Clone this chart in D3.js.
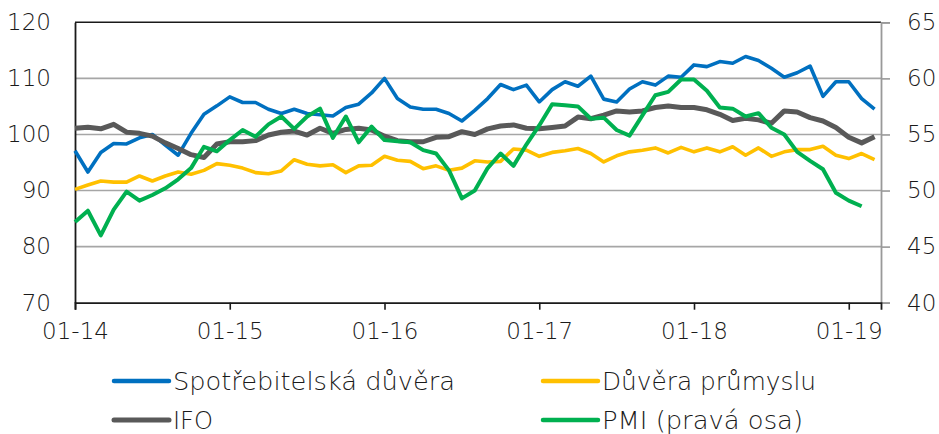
<!DOCTYPE html>
<html><head><meta charset="utf-8">
<script src="https://cdn.jsdelivr.net/npm/d3@7"></script>
<style>
html,body{margin:0;padding:0;background:#fff;}
svg{display:block;font-family:"DejaVu Sans",sans-serif;}
</style></head>
<body><svg id="c" width="939" height="434"></svg>
<script>
const tickLabels = ["01-14","01-15","01-16","01-17","01-18","01-19"];
const tickIdx = [0,12,24,36,48,60];
const leftTicks = [70,80,90,100,110,120];
const rightTicks = [40,45,50,55,60,65];

const spotrebitelska = [97.1,93.3,96.8,98.4,98.3,99.4,100.0,98.1,96.3,100.2,103.6,105.1,106.7,105.7,105.7,104.5,103.75,104.5,103.75,103.5,103.3,104.8,105.4,107.4,110.0,106.4,104.9,104.5,104.5,103.75,102.4,104.3,106.4,108.9,108.0,108.8,105.8,108.0,109.4,108.6,110.4,106.3,105.8,108.1,109.4,108.8,110.4,110.2,112.4,112.1,113.0,112.7,113.9,113.2,111.8,110.2,111.0,112.2,106.8,109.4,109.4,106.4,104.5];
const prumysl = [90.2,91.0,91.7,91.5,91.5,92.6,91.7,92.6,93.3,92.9,93.6,94.8,94.5,94.0,93.2,93.0,93.5,95.5,94.7,94.4,94.6,93.2,94.4,94.5,96.1,95.4,95.2,93.9,94.4,93.6,94.0,95.3,95.1,95.2,97.4,97.2,96.1,96.8,97.1,97.5,96.6,95.1,96.2,96.9,97.2,97.6,96.7,97.7,96.9,97.6,96.9,97.8,96.3,97.6,96.1,96.9,97.3,97.3,97.9,96.3,95.7,96.6,95.5];
const ifo = [101.1,101.3,101.0,101.8,100.4,100.2,99.7,98.5,97.5,96.4,95.9,98.3,98.7,98.7,98.9,99.9,100.4,100.6,99.9,101.1,100.2,100.9,101.1,100.8,99.7,98.9,98.7,98.7,99.5,99.6,100.5,100.0,101.0,101.5,101.7,101.1,101.0,101.25,101.5,103.1,102.8,103.45,104.2,104.0,104.2,104.8,105.06,104.8,104.8,104.4,103.6,102.5,102.9,102.6,102.0,104.2,104.0,103.0,102.4,101.25,99.5,98.5,99.6];
const pmi = [47.2,48.2,46.0,48.3,49.9,49.1,49.6,50.2,51.0,52.0,53.9,53.5,54.5,55.4,54.8,55.9,56.6,55.5,56.6,57.3,54.7,56.6,54.3,55.7,54.5,54.4,54.3,53.6,53.3,51.8,49.3,50.0,52.0,53.3,52.2,54.1,55.8,57.7,57.6,57.5,56.4,56.5,55.4,54.9,56.7,58.5,58.8,59.9,59.9,58.9,57.4,57.3,56.6,56.9,55.6,55.0,53.45,52.65,51.9,49.8,49.1,48.6];

const seriesNames = ["Spotřebitelská důvěra","Důvěra průmyslu","IFO","PMI (pravá osa)"];
const seriesColors = ["#0070C0","#FFC000","#595959","#00B050"];

const svg = d3.select("#c");
const L=75, R=881, T=22.3, B=302.7;
const x = d3.scaleLinear().domain([0,62.5]).range([L,R]);
const yL = d3.scaleLinear().domain([70,120]).range([B,T]);
const yR = d3.scaleLinear().domain([40,65]).range([B,T]);
const FW = 300;

// gridlines
svg.append("g").selectAll("line").data(leftTicks.filter(v=>v>70&&v<120)).join("line")
  .attr("x1",L).attr("x2",R).attr("y1",d=>yL(d)).attr("y2",d=>yL(d))
  .attr("stroke","#a6a6a6").attr("stroke-width",1.6);
// top border
svg.append("line").attr("x1",L).attr("x2",R).attr("y1",T).attr("y2",T).attr("stroke","#1a1a1a").attr("stroke-width",1.6);

// right axis
const ra = svg.append("g").attr("transform",`translate(${R},0)`)
  .call(d3.axisRight(yR).tickValues(rightTicks).tickSize(9).tickPadding(17).tickFormat(d3.format("d")));
ra.select(".domain").attr("stroke","#999").attr("stroke-width",1.8);
ra.selectAll(".tick line").attr("stroke","#999").attr("stroke-width",1.6);
ra.selectAll("text").attr("font-size",23).attr("fill","#1a1a1a").attr("font-family","DejaVu Sans").attr("font-weight",FW);

// left axis
const la = svg.append("g").attr("transform",`translate(${L},0)`)
  .call(d3.axisLeft(yL).tickValues(leftTicks).tickSize(0).tickPadding(24).tickFormat(d3.format("d")));
la.select(".domain").attr("stroke","#1a1a1a").attr("stroke-width",1.8);
la.selectAll("text").attr("font-size",23).attr("fill","#1a1a1a").attr("font-family","DejaVu Sans").attr("font-weight",FW);

// bottom axis
const ba = svg.append("g").attr("transform",`translate(0,${B})`)
  .call(d3.axisBottom(x).tickValues(tickIdx).tickSize(7).tickPadding(13).tickFormat((d,i)=>tickLabels[i]));
ba.select(".domain").attr("stroke","#1a1a1a").attr("stroke-width",1.8);
ba.selectAll(".tick line").attr("stroke","#1a1a1a").attr("stroke-width",1.6);
ba.selectAll("text").attr("font-size",23).attr("fill","#1a1a1a").attr("font-family","DejaVu Sans").attr("font-weight",FW);

// lines
const lineL = d3.line().x((d,i)=>x(i)).y(d=>yL(d));
const lineR = d3.line().x((d,i)=>x(i)).y(d=>yR(d));
const widths = [3.6,3.6,5,4];
[[spotrebitelska,lineL],[prumysl,lineL],[ifo,lineL],[pmi,lineR]].forEach(([data,gen],k)=>{
  svg.append("path").datum(data).attr("d",gen).attr("fill","none")
    .attr("stroke",seriesColors[k]).attr("stroke-width",widths[k])
    .attr("stroke-linejoin","round").attr("stroke-linecap","butt");
});

// legend
const legPos = [[114,381],[543,381],[114,420],[543,420]];
const legW = [282,214,40,201];
seriesNames.forEach((n,k)=>{
  const [lx,ly]=legPos[k];
  svg.append("line").attr("x1",lx).attr("x2",lx+55).attr("y1",ly).attr("y2",ly)
    .attr("stroke",seriesColors[k]).attr("stroke-width",k===2?5:4.5).attr("stroke-linecap","round");
  svg.append("text").attr("x",lx+59).attr("y",ly).attr("dy","0.36em")
    .attr("font-size",24).attr("fill","#1a1a1a").attr("font-weight",FW)
    .attr("textLength",legW[k]).attr("lengthAdjust","spacingAndGlyphs").text(n);
});
</script></body></html>
